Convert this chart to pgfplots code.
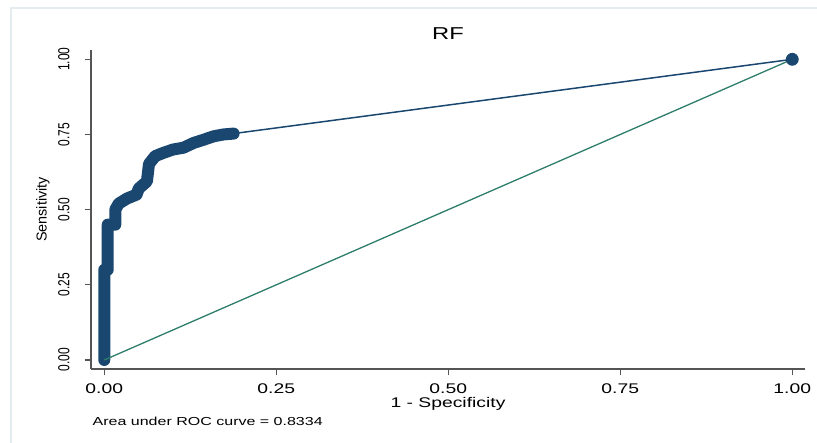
\documentclass[border=0pt]{standalone}
\usepackage{fontspec}
\setmainfont{Liberation Sans}
\newfontfamily\widefont[FakeStretch=1.38]{Liberation Sans}
\newfontfamily\narrowfont[FakeStretch=0.75]{Liberation Sans}
\usepackage{pgfplots}
\pgfplotsset{compat=1.18}
\definecolor{stnavy}{HTML}{1A476F}
\definecolor{stgreen}{HTML}{2E7D6B}
\definecolor{axgray}{HTML}{555555}
\definecolor{framec}{HTML}{E4ECEF}

\begin{document}
\begin{tikzpicture}
\path[use as bounding box] (-45.5pt,-37pt) rectangle (363pt,184.5pt);
\draw[framec, line width=0.6pt] (-40pt,-37pt) -- (-40pt,180.5pt) -- (363pt,180.5pt);
\begin{axis}[
    at={(0,0)}, anchor=south west,
    scale only axis, width=357pt, height=159.5pt,
    xmin=-0.0193, xmax=1.0185, ymin=-0.030, ymax=1.031,
    axis lines*=left,
    axis line style={axgray, line width=0.65pt},
    tick align=outside, major tick length=3pt,
    tick style={axgray, line width=0.6pt},
    xtick={0,0.25,0.5,0.75,1}, ytick={0,0.25,0.5,0.75,1},
    /pgf/number format/.cd, fixed, fixed zerofill, precision=2, assume math mode=true,
    /pgfplots/.cd,
    tick label style={inner sep=0pt},
    xticklabel style={anchor=north, font=\widefont\fontsize{7}{8}\selectfont},
    yticklabel style={rotate=90, anchor=south, font=\narrowfont\fontsize{8}{9}\selectfont},
    xticklabel shift=4pt, yticklabel shift=7.5pt,
    every axis title/.style={at={(axis description cs:0.5,1)}, yshift=5.4pt, anchor=base, inner sep=0pt, font=\widefont\fontsize{8.6}{10}\selectfont},
    every axis x label/.style={at={(axis description cs:0.5,0)}, yshift=-19pt, anchor=base, inner sep=0pt, font=\widefont\fontsize{7}{8}\selectfont},
    every axis y label/.style={at={(axis description cs:0,0.5)}, xshift=-22.15pt, rotate=90, anchor=base, inner sep=0pt, font=\fontsize{7.2}{8}\selectfont},
    title={RF},
    xlabel={1 - Specificity},
    ylabel={Sensitivity},
]
% thin line from the last ROC point to (1,1)
\addplot[stnavy, line width=0.75pt] coordinates {(0.188,0.753) (1,1)};
\addplot[stnavy, only marks, mark=*, mark size=3pt] coordinates {(1,1)};
% ROC points (dense markers drawn as a thick band)
\addplot[stnavy, line width=6pt, line cap=round, line join=round] coordinates {
    (0,0) (0,0.30) (0.005,0.30) (0.005,0.45) (0.016,0.45) (0.016,0.50)
    (0.021,0.52) (0.033,0.537) (0.047,0.55) (0.050,0.570) (0.062,0.594)
    (0.064,0.633) (0.065,0.652) (0.074,0.678) (0.086,0.689) (0.100,0.700)
    (0.115,0.706) (0.130,0.722) (0.145,0.733) (0.159,0.744) (0.173,0.750)
    (0.188,0.753)
};
% reference line
\addplot[stgreen, line width=0.65pt] coordinates {(0,0) (1,1)};
\end{axis}
\node[anchor=base west, inner sep=0pt, font=\widefont\fontsize{5.8}{7}\selectfont] at (0.65pt,-28.4pt) {Area under ROC curve = 0.8334};
\end{tikzpicture}
\end{document}
